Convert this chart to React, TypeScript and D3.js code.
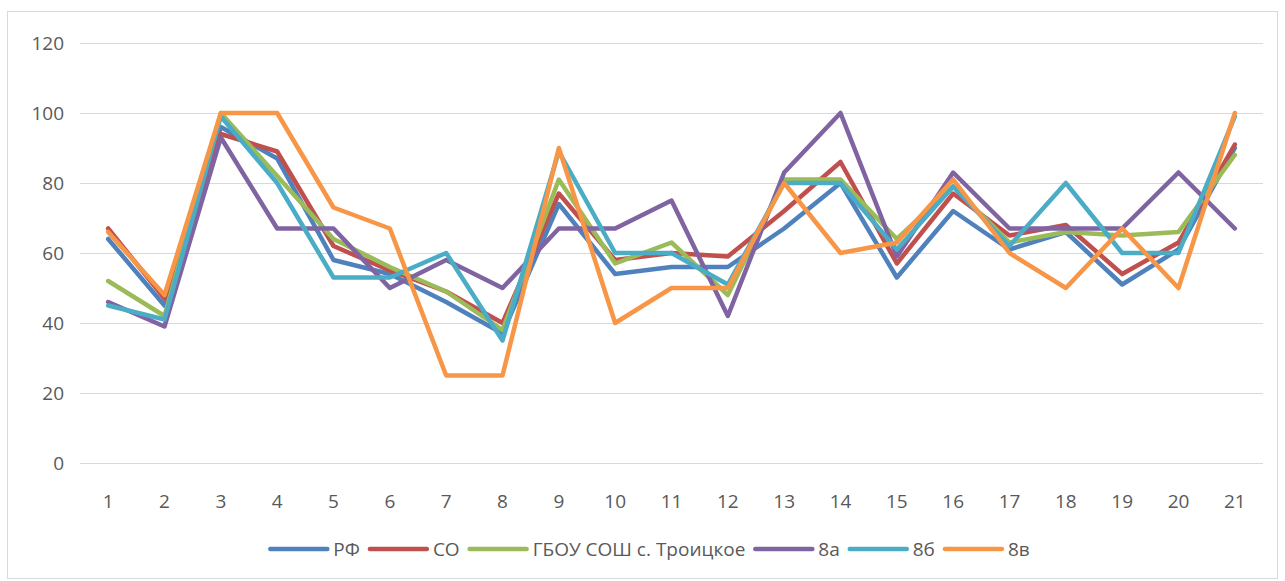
import * as d3 from "d3";
import { useEffect, useRef } from "react";

const categories = Array.from({ length: 21 }, (_, i) => String(i + 1));

const seriesNames = ["РФ", "СО", "ГБОУ СОШ с. Троицкое", "8а", "8б", "8в"];
const seriesColors = ["#4F81BD", "#C0504D", "#9BBB59", "#8064A2", "#4BACC6", "#F79646"];

const rfValues = [64, 45, 96, 87, 58, 54, 46, 37, 74, 54, 56, 56, 67, 80, 53, 72, 61, 66, 51, 61, 90];
const soValues = [67, 47, 94, 89, 62, 55, 49, 40, 77, 58, 60, 59, 72, 86, 57, 77, 65, 68, 54, 63, 91];
const schoolValues = [52, 42, 100, 82, 64, 56, 49, 38, 81, 57, 63, 48, 81, 81, 64, 79, 63, 66, 65, 66, 88];
const class8aValues = [46, 39, 93, 67, 67, 50, 58, 50, 67, 67, 75, 42, 83, 100, 59, 83, 67, 67, 67, 83, 67];
const class8bValues = [45, 41, 99, 80, 53, 53, 60, 35, 89, 60, 60, 51, 80, 80, 61, 79, 62, 80, 60, 60, 99];
const class8vValues = [66, 48, 100, 100, 73, 67, 25, 25, 90, 40, 50, 50, 80, 60, 63, 81, 60, 50, 67, 50, 100];

const yTicks = [0, 20, 40, 60, 80, 100, 120];

const allValues = [rfValues, soValues, schoolValues, class8aValues, class8bValues, class8vValues];

export default function App() {
  const ref = useRef<SVGSVGElement | null>(null);

  useEffect(() => {
    const el = ref.current;
    if (!el) return;
    const svg = d3.select(el);
    svg.selectAll("*").remove();

    const width = 1285;
    const height = 581;
    const textColor = "#595959";
    const gridColor = "#D9D9D9";
    const font = "'Open Sans', sans-serif";

    // outer chart frame
    svg
      .append("rect")
      .attr("x", 7.5)
      .attr("y", 11.5)
      .attr("width", 1270)
      .attr("height", 567)
      .attr("fill", "#fff")
      .attr("stroke", gridColor);

    const plot = { left: 80, right: 1263, top: 43, bottom: 463 };

    const x = d3.scaleBand<string>().domain(categories).range([plot.left, plot.right]);
    const y = d3.scaleLinear().domain([0, 120]).range([plot.bottom, plot.top]);
    const cx = (c: string) => (x(c) ?? 0) + x.bandwidth() / 2;

    // grid + y labels
    const yAxis = svg.append("g");
    yTicks.forEach((t) => {
      yAxis
        .append("line")
        .attr("x1", plot.left)
        .attr("x2", plot.right)
        .attr("y1", Math.round(y(t)) + 0.5)
        .attr("y2", Math.round(y(t)) + 0.5)
        .attr("stroke", gridColor)
        .attr("stroke-width", 1);
      yAxis
        .append("text")
        .attr("x", 64)
        .attr("y", y(t))
        .attr("dy", "0.35em")
        .attr("text-anchor", "end")
        .attr("fill", textColor)
        .attr("font-family", font)
        .attr("font-size", 19)
        .text(String(t));
    });

    // x labels
    svg
      .append("g")
      .selectAll("text")
      .data(categories)
      .enter()
      .append("text")
      .attr("x", (d) => cx(d))
      .attr("y", 501)
      .attr("dy", "0.35em")
      .attr("text-anchor", "middle")
      .attr("fill", textColor)
      .attr("font-family", font)
      .attr("font-size", 19)
      .text((d) => d);

    // lines
    const line = d3
      .line<number>()
      .x((_, i) => cx(categories[i]))
      .y((v) => y(v));

    const lines = svg.append("g");
    allValues.forEach((vals, si) => {
      lines
        .append("path")
        .attr("d", line(vals) ?? "")
        .attr("fill", "none")
        .attr("stroke", seriesColors[si])
        .attr("stroke-width", 4.5)
        .attr("stroke-linejoin", "round")
        .attr("stroke-linecap", "round");
    });

    // legend
    const legend = svg.append("g");
    const lineLen = 57;
    const gapText = 6;
    const gapItem = 10;
    let cursor = 0;
    const ly = 549;
    seriesNames.forEach((name, i) => {
      const g = legend.append("g").attr("transform", `translate(${cursor},0)`);
      g.append("line")
        .attr("x1", 0)
        .attr("x2", lineLen)
        .attr("y1", ly)
        .attr("y2", ly)
        .attr("stroke", seriesColors[i])
        .attr("stroke-width", 4.5)
        .attr("stroke-linecap", "round");
      const t = g
        .append("text")
        .attr("x", lineLen + gapText)
        .attr("y", ly)
        .attr("dy", "0.35em")
        .attr("fill", textColor)
        .attr("font-family", font)
        .attr("font-size", 19)
        .text(name);
      const w = (t.node() as SVGTextElement).getComputedTextLength();
      cursor += lineLen + gapText + w + gapItem;
    });
    const total = cursor - gapItem;
    legend.attr("transform", `translate(${650 - total / 2},0)`);

    svg.attr("width", width).attr("height", height);
  }, []);

  return (
    <svg
      ref={ref}
      width={1285}
      height={581}
      style={{ position: "absolute", left: 0, top: 0, display: "block", background: "#fff" }}
    />
  );
}
